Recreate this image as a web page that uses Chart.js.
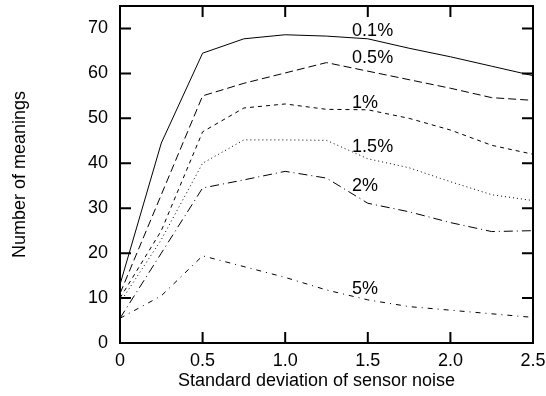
<!DOCTYPE html>
<html>
<head>
<meta charset="utf-8">
<script src="https://cdn.jsdelivr.net/npm/chart.js@4.4.1/dist/chart.umd.min.js"></script>
<style>
  html, body { margin: 0; padding: 0; background: #fff; }
  #wrap { width: 546px; height: 396px; }
</style>
</head>
<body>
<div id="wrap"><canvas id="noiseChart" width="546" height="396"></canvas></div>
<script>
// sensor noise levels (x) and number of meanings per noise threshold
var noise = [0, 0.25, 0.5, 0.75, 1, 1.25, 1.5, 1.75, 2, 2.25, 2.5];
var seriesNames = ['0.1%', '0.5%', '1%', '1.5%', '2%', '5%'];
var m01 = [13, 44.5, 64.5, 67.7, 68.6, 68.3, 67.7, 65.6, 63.7, 61.6, 59.5];
var m05 = [11, 33, 55, 57.8, 60.1, 62.4, 60.5, 58.6, 56.7, 54.6, 54.0];
var m1  = [10, 25, 47, 52.3, 53.2, 52.0, 51.9, 50.0, 47.4, 44.0, 42.0];
var m15 = [9, 23, 40, 45.2, 45.2, 45.1, 41.0, 39.0, 35.9, 33.0, 31.7];
var m2  = [5.5, 20, 34.5, 36.3, 38.2, 36.7, 31.1, 29.2, 26.8, 24.8, 25.0];
var m5  = [5.5, 10.5, 19.4, 17.0, 14.6, 11.8, 9.6, 8.1, 7.3, 6.5, 5.7];
// where the series labels sit (data coords)
var labelX = [1.405, 1.405, 1.405, 1.405, 1.405, 1.405];
var labelY = [69.5, 63.5, 53.5, 43.7, 35, 12];

var xTicks = [0, 0.5, 1, 1.5, 2, 2.5];
var yTicks = [0, 10, 20, 30, 40, 50, 60, 70];
var xTitle = 'Standard deviation of sensor noise';

var dashes = [[], [8, 4], [4, 4], [1, 3], [9, 4, 1, 4], [5, 5, 1, 5]];
var allSeries = [m01, m05, m1, m15, m2, m5];

var FONT = "'Liberation Sans', Arial, sans-serif";
var FSIZE = 18;

function pts(values) {
    return values.map(function(v, i) { return {x: noise[i], y: v}; });
}

var datasets = allSeries.map(function(values, i) {
    return {
        label: seriesNames[i],
        data: pts(values),
        borderColor: '#000',
        borderWidth: 1,
        borderDash: dashes[i],
        pointRadius: 0,
        fill: false,
        tension: 0
    };
});

// box, inward ticks on all four sides, the in-plot labels and the x title
var gnuplotFrame = {
    id: 'gnuplotFrame',
    afterDraw: function(chart) {
        var ctx = chart.ctx;
        var a = chart.chartArea;
        var xs = chart.scales.x, ys = chart.scales.y;
        var len = 11;
        ctx.save();
        ctx.strokeStyle = '#000';
        ctx.lineWidth = 2;
        ctx.beginPath();
        xTicks.forEach(function(t) {
            var px = xs.getPixelForValue(t);
            ctx.moveTo(px, a.bottom); ctx.lineTo(px, a.bottom - len);
            ctx.moveTo(px, a.top); ctx.lineTo(px, a.top + len);
        });
        yTicks.forEach(function(t) {
            var py = ys.getPixelForValue(t);
            ctx.moveTo(a.left, py); ctx.lineTo(a.left + len, py);
            ctx.moveTo(a.right, py); ctx.lineTo(a.right - len, py);
        });
        ctx.stroke();
        ctx.strokeRect(a.left, a.top, a.right - a.left, a.bottom - a.top);

        ctx.fillStyle = '#000';
        ctx.font = FSIZE + 'px ' + FONT;
        ctx.textAlign = 'left';
        ctx.textBaseline = 'middle';
        seriesNames.forEach(function(name, i) {
            ctx.fillText(name, xs.getPixelForValue(labelX[i]), ys.getPixelForValue(labelY[i]));
        });

        // gnuplot puts the x label a bit left of the plot centre
        ctx.textAlign = 'center';
        ctx.fillText(xTitle, (a.left + a.right) / 2 - 10, xs.bottom - 15);
        ctx.restore();
    }
};

var ctx = document.getElementById('noiseChart').getContext('2d');
var chart = new Chart(ctx, {
    type: 'line',
    data: { datasets: datasets },
    options: {
        responsive: false,
        animation: false,
        events: [],
        layout: { padding: { top: 6, right: 13, left: 0, bottom: 0 } },
        plugins: {
            legend: { display: false },
            tooltip: { enabled: false }
        },
        scales: {
            x: {
                type: 'linear',
                min: 0,
                max: 2.5,
                grid: { display: false, drawTicks: false },
                border: { display: false },
                afterBuildTicks: function(scale) {
                    scale.ticks = xTicks.map(function(v) { return {value: v}; });
                },
                afterFit: function(scale) {
                    scale.height = 53;
                    scale.paddingLeft = 0;
                    scale.paddingRight = 0;
                },
                ticks: {
                    color: '#000',
                    padding: 7,
                    maxRotation: 0,
                    font: { family: FONT, size: FSIZE }
                },
                title: { display: false }
            },
            y: {
                type: 'linear',
                min: 0,
                max: 75,
                grid: { display: false, drawTicks: false },
                border: { display: false },
                afterBuildTicks: function(scale) {
                    scale.ticks = yTicks.map(function(v) { return {value: v}; });
                },
                afterFit: function(scale) {
                    scale.width = 120;
                    scale.paddingTop = 0;
                    scale.paddingBottom = 0;
                },
                ticks: {
                    color: '#000',
                    padding: 12,
                    font: { family: FONT, size: FSIZE }
                },
                title: {
                    display: true,
                    text: 'Number of meanings',
                    color: '#000',
                    font: { family: FONT, size: FSIZE },
                    padding: { top: 9, bottom: 0 }
                }
            }
        }
    },
    plugins: [gnuplotFrame]
});
</script>
</body>
</html>
